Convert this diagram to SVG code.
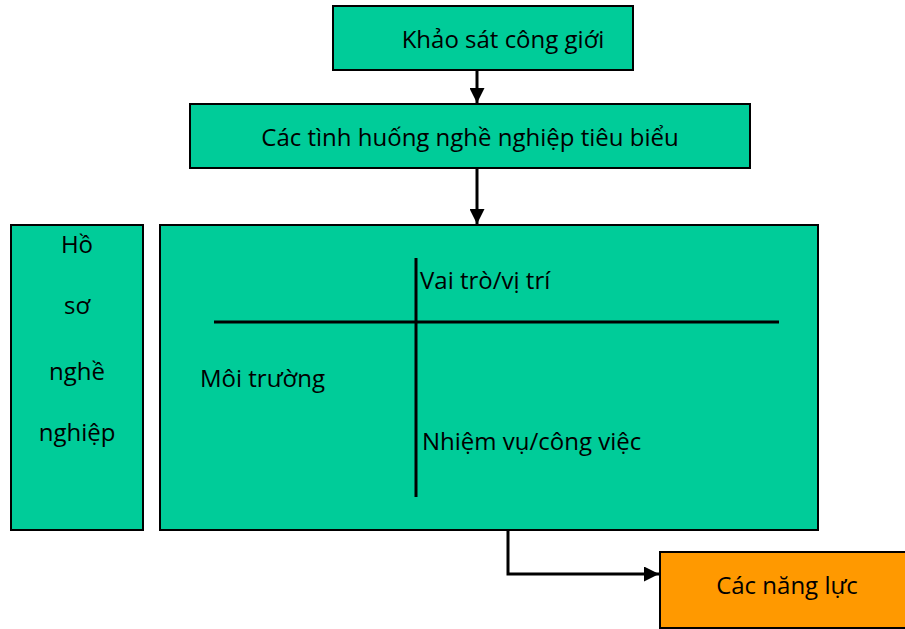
<svg xmlns="http://www.w3.org/2000/svg" width="905" height="629" viewBox="0 0 905 629">
<style>
.t{font-family:"Open Sans","Noto Sans","Liberation Sans",sans-serif;font-size:24px;fill:#000}
.g{fill:#00CC99;stroke:#000;stroke-width:2}
.o{fill:#FF9900;stroke:#000;stroke-width:2}
.c{stroke:#000;stroke-width:3;fill:none}
</style>
<defs>
<marker id="ah" viewBox="0 0 10 10" refX="10" refY="5" markerWidth="5" markerHeight="5" orient="auto" markerUnits="strokeWidth">
<path d="M0,0 L10,5 L0,10 z" fill="#000"/>
</marker>
</defs>
<rect width="905" height="629" fill="#fff"/>
<g id="connectors">
<line class="c" x1="477" y1="71" x2="477" y2="103" marker-end="url(#ah)"/>
<line class="c" x1="477" y1="169" x2="477" y2="224" marker-end="url(#ah)"/>
<polyline class="c" points="508,531 508,574 659,574" marker-end="url(#ah)"/>
</g>
<g id="khao-sat">
<rect class="g" x="333" y="6" width="300" height="64"/>
<text class="t" x="503" y="48" text-anchor="middle">Khảo sát công giới</text>
</g>
<g id="tinh-huong">
<rect class="g" x="190" y="104" width="560" height="64"/>
<text class="t" x="470" y="146" text-anchor="middle">Các tình huống nghề nghiệp tiêu biểu</text>
</g>
<g id="ho-so">
<rect class="g" x="11" y="225" width="132" height="305"/>
<text class="t" x="77" y="253" text-anchor="middle">Hồ</text>
<text class="t" x="77" y="314" text-anchor="middle">sơ</text>
<text class="t" x="77" y="380" text-anchor="middle">nghề</text>
<text class="t" x="77" y="441" text-anchor="middle">nghiệp</text>
</g>
<g id="main">
<rect class="g" x="160" y="225" width="658" height="305"/>
<line class="c" x1="214" y1="322" x2="779" y2="322"/>
<line class="c" x1="416" y1="258" x2="416" y2="497"/>
<text class="t" x="420" y="289">Vai trò/vị trí</text>
<text class="t" x="200" y="387">Môi trường</text>
<text class="t" x="422" y="450">Nhiệm vụ/công việc</text>
</g>
<g id="nang-luc">
<rect class="o" x="660" y="552" width="250" height="76"/>
<text class="t" x="787" y="594" text-anchor="middle">Các năng lực</text>
</g>
</svg>
